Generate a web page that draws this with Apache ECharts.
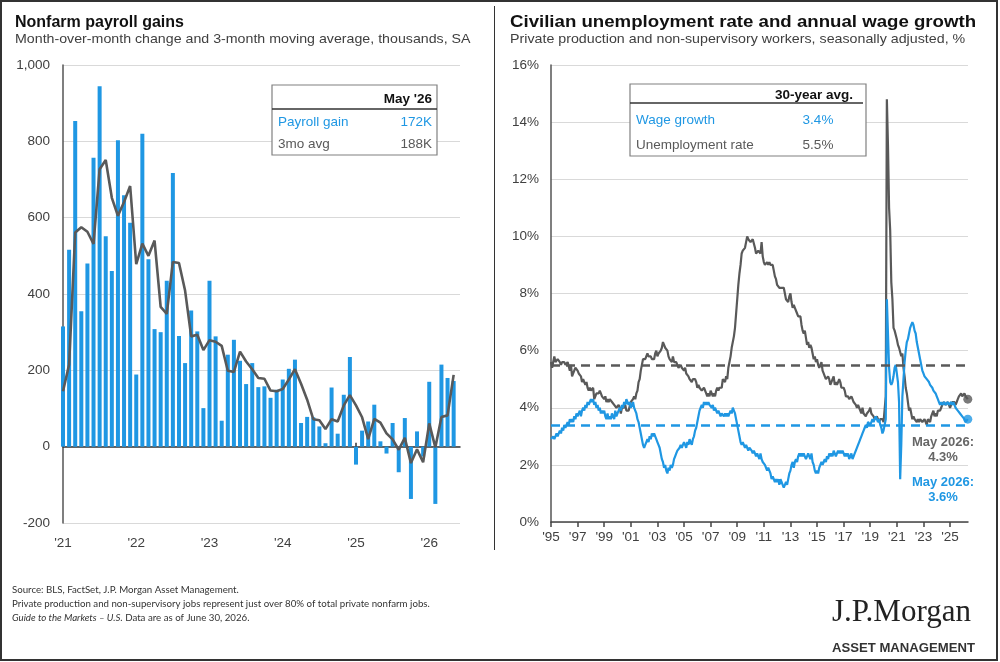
<!DOCTYPE html>
<html>
<head>
<meta charset="utf-8">
<title>Nonfarm payroll gains / Unemployment rate and wage growth</title>
<script src="https://cdn.jsdelivr.net/npm/echarts@6.0.0/dist/echarts.min.js"></script>
<style>
  html, body { margin: 0; padding: 0; background: #fff; }
  #main { width: 1000px; height: 662px; }
</style>
</head>
<body>
<div id="main"></div>
<script>
// ---------- left panel: nonfarm payrolls, Jan 2021 .. May 2026, thousands ----------
var payrollStartYear = 2021;
var payrollGains = [
  315, 516, 853, 355, 480, 757, 944, 551, 460, 803, 659, 587,   // 2021
  189, 820, 491, 308, 300, 435, 717, 290, 219, 357, 302, 101,   // 2022
  435, 289, 68, 241, 280, 225, 164, 219, 156, 158, 128, 149,    // 2023
  176, 204, 228, 62, 78, 77, 53, 9, 155, 34, 136, 235,          // 2024
  -47, 42, 66, 110, 14, -18, 62, -67, 75, -137, 40, -26,        // 2025
  170, -150, 215, 180, 172                                      // 2026
];
var payroll3moAvg = [
  145, 215, 561, 575, 563, 531, 727, 751, 652, 605, 641, 683,
  478, 532, 500, 540, 366, 348, 484, 481, 409, 289, 293, 253,
  279, 275, 264, 199, 196, 249, 223, 203, 180, 178, 147, 145,
  151, 176, 203, 165, 123, 72, 69, 46, 72, 66, 108, 135,
  108, 77, 20, 73, 63, 35, 19, -8, 23, -43, -7, -41,
  61, -2, 78, 82, 188
];
var payrollYears = [2021, 2022, 2023, 2024, 2025, 2026];
var payrollAxis = [-200, 1000, 200];   // min, max, step

// ---------- right panel: monthly, Jan 1995 .. May 2026, % ----------
var ratesStartYear = 1995;
var unemploymentRate = [
  5.6,5.4,5.4,5.8,5.6,5.6,5.7,5.7,5.6,5.5,5.6,5.6,
  5.6,5.5,5.5,5.6,5.6,5.3,5.5,5.1,5.2,5.2,5.4,5.4,
  5.3,5.2,5.2,5.1,4.9,5.0,4.9,4.8,4.9,4.7,4.6,4.7,
  4.6,4.6,4.7,4.3,4.4,4.5,4.5,4.5,4.6,4.5,4.4,4.4,
  4.3,4.4,4.2,4.3,4.2,4.3,4.3,4.2,4.2,4.1,4.1,4.0,
  4.0,4.1,4.0,3.8,4.0,4.0,4.0,4.1,3.9,3.9,3.9,3.9,
  4.2,4.2,4.3,4.4,4.3,4.5,4.6,4.9,5.0,5.3,5.5,5.7,
  5.7,5.7,5.7,5.9,5.8,5.8,5.8,5.7,5.7,5.7,5.9,6.0,
  5.8,5.9,5.9,6.0,6.1,6.3,6.2,6.1,6.1,6.0,5.8,5.7,
  5.7,5.6,5.8,5.6,5.6,5.6,5.5,5.4,5.4,5.5,5.4,5.4,
  5.3,5.4,5.2,5.2,5.1,5.0,5.0,4.9,5.0,5.0,5.0,4.9,
  4.7,4.8,4.7,4.7,4.6,4.6,4.7,4.7,4.5,4.4,4.5,4.4,
  4.6,4.5,4.4,4.5,4.4,4.6,4.7,4.6,4.7,4.7,4.7,5.0,
  5.0,4.9,5.1,5.0,5.4,5.6,5.8,6.1,6.1,6.5,6.8,7.3,
  7.8,8.3,8.7,9.0,9.4,9.5,9.5,9.6,9.8,10.0,9.9,9.9,
  9.8,9.8,9.9,9.9,9.6,9.4,9.4,9.5,9.5,9.4,9.8,9.3,
  9.1,9.0,9.0,9.1,9.0,9.1,9.0,9.0,9.0,8.8,8.6,8.5,
  8.3,8.3,8.2,8.2,8.2,8.2,8.2,8.0,7.8,7.8,7.7,7.9,
  8.0,7.7,7.5,7.6,7.5,7.5,7.3,7.2,7.2,7.2,6.9,6.7,
  6.6,6.7,6.7,6.2,6.3,6.1,6.2,6.1,5.9,5.7,5.8,5.6,
  5.7,5.5,5.4,5.4,5.6,5.3,5.2,5.1,5.0,5.0,5.1,5.0,
  4.8,4.9,5.0,5.1,4.8,4.9,4.8,4.9,5.0,4.9,4.7,4.7,
  4.7,4.6,4.4,4.4,4.4,4.3,4.3,4.4,4.3,4.2,4.2,4.1,
  4.0,4.1,4.0,4.0,3.8,4.0,3.8,3.8,3.7,3.8,3.8,3.9,
  4.0,3.8,3.8,3.7,3.6,3.6,3.7,3.6,3.5,3.6,3.6,3.6,
  3.5,3.5,4.4,14.8,13.2,11.0,10.2,8.4,7.8,6.8,6.7,6.7,
  6.4,6.2,6.1,6.1,5.8,5.9,5.4,5.1,4.7,4.5,4.2,3.9,
  4.0,3.8,3.6,3.7,3.6,3.6,3.5,3.6,3.5,3.6,3.6,3.5,
  3.5,3.6,3.5,3.4,3.6,3.6,3.5,3.7,3.8,3.9,3.7,3.8,
  3.7,3.9,3.9,3.9,4.0,4.1,4.2,4.2,4.1,4.1,4.2,4.1,
  4.0,4.1,4.2,4.2,4.2,4.1,4.2,4.3,4.4,4.4,4.5,4.4,
  4.4,4.5,4.4,4.4,4.3
];
var wageGrowth = [
  2.9,2.9,3.0,2.9,3.0,3.1,3.0,3.1,3.2,3.1,3.3,3.2,
  3.4,3.3,3.4,3.5,3.4,3.6,3.5,3.6,3.5,3.7,3.6,3.8,
  3.7,3.8,3.9,3.7,3.9,4.0,3.9,4.1,4.0,4.2,4.1,4.2,
  4.3,4.2,4.3,4.1,4.2,4.0,4.1,3.9,4.0,3.8,3.9,3.8,
  3.9,3.7,3.6,3.8,3.6,3.7,3.6,3.8,3.7,3.6,3.9,3.7,
  3.8,3.9,4.0,3.9,4.1,4.0,4.2,4.1,4.3,4.2,4.1,4.2,
  4.0,4.1,4.2,4.0,3.9,3.8,3.6,3.5,3.3,3.1,2.9,2.7,
  2.6,2.7,2.8,2.9,2.8,3.0,2.9,3.1,3.0,3.1,3.0,2.9,
  2.8,2.7,2.6,2.4,2.2,2.1,1.9,2.0,1.8,1.7,1.9,1.8,
  2.0,1.9,2.0,2.2,2.3,2.4,2.5,2.5,2.6,2.7,2.6,2.7,
  2.8,2.7,2.6,2.8,2.7,2.9,2.8,2.7,2.9,3.0,3.2,3.3,
  3.5,3.7,3.9,4.0,4.1,4.0,4.2,4.1,4.2,4.1,4.2,4.1,
  4.1,4.0,4.1,3.9,4.0,3.9,3.8,3.9,3.8,3.7,3.8,3.8,
  3.7,3.8,3.7,3.8,3.7,3.8,3.9,3.8,4.0,3.9,3.8,3.6,
  3.4,3.2,3.0,2.8,2.7,2.8,2.7,2.6,2.7,2.6,2.5,2.6,
  2.6,2.5,2.4,2.5,2.4,2.3,2.4,2.3,2.2,2.4,2.2,2.1,
  2.1,2.0,1.9,1.8,1.9,1.8,1.7,1.5,1.6,1.5,1.4,1.5,
  1.4,1.5,1.3,1.5,1.4,1.3,1.2,1.3,1.4,1.3,1.5,1.7,
  1.8,2.0,2.1,1.9,2.1,2.2,2.1,2.3,2.4,2.3,2.4,2.3,
  2.4,2.3,2.2,2.3,2.4,2.3,2.2,2.4,2.1,2.0,1.8,1.7,
  1.8,1.7,1.9,2.0,2.1,2.0,2.1,2.2,2.1,2.3,2.2,2.4,
  2.3,2.4,2.3,2.5,2.4,2.3,2.4,2.5,2.4,2.5,2.4,2.5,
  2.4,2.3,2.4,2.3,2.4,2.2,2.3,2.4,2.2,2.3,2.4,2.5,
  2.5,2.7,2.8,2.9,3.0,3.1,3.2,3.3,3.4,3.3,3.5,3.5,
  3.4,3.5,3.6,3.5,3.6,3.7,3.6,3.5,3.6,3.4,3.3,3.1,
  3.2,3.4,3.6,7.8,6.6,5.4,4.9,4.8,4.9,5.1,5.4,5.5,
  5.2,4.9,4.2,1.5,2.7,4.4,5.0,5.6,6.0,6.3,6.4,6.6,
  6.8,6.9,7.0,6.9,6.7,6.6,6.3,6.1,5.9,5.7,5.5,5.3,
  5.2,5.1,5.1,5.0,5.0,4.9,4.8,4.8,4.7,4.6,4.6,4.5,
  4.4,4.3,4.2,4.1,4.2,4.1,4.1,4.2,4.1,4.1,4.2,4.1,
  4.1,4.2,4.1,4.2,4.1,4.0,4.0,3.9,3.9,3.8,3.8,3.7,
  3.7,3.6,3.5,3.5,3.6
];
var wageAvg30y = 3.4;
var unemploymentAvg30y = 5.5;
var rateYears = [1995, 1997, 1999, 2001, 2003, 2005, 2007, 2009, 2011, 2013, 2015, 2017, 2019, 2021, 2023, 2025];
var rateAxis = [0, 16, 2];

// --------------------------------------------------------------------------
var BLUE = '#1f97e3';
var GREY = '#595959';
var FONT = '"Liberation Sans", Arial, sans-serif';
var NOTE_FONT = 'Lato, "Liberation Sans", sans-serif';

function monthly(startYear, arr) {
    return arr.map(function (v, i) { return [startYear + i / 12, v]; });
}
function yearLabel(v) {
    return "'" + String(Math.round(v)).slice(2);
}
function last(arr) { return arr[arr.length - 1]; }

var chartDom = document.getElementById('main');
var myChart = echarts.init(chartDom, null, {renderer: 'canvas'});

function txt(x, y, text, opt) {
    opt = opt || {};
    return {
        type: 'text', x: x, y: y, z: 110,
        scaleX: opt.scaleX || 1,
        style: {
            text: text,
            fill: opt.color || '#333',
            fontSize: opt.size || 13,
            fontWeight: opt.weight || 'normal',
            fontStyle: opt.style || 'normal',
            fontFamily: opt.family || FONT,
            align: opt.align || 'left',
            verticalAlign: 'middle',
            rich: opt.rich
        }
    };
}
function hline(x1, x2, y, color, w) {
    return {type: 'line', z: 105, shape: {x1: x1, y1: y, x2: x2, y2: y}, style: {stroke: color, lineWidth: w}};
}

var option = {
    backgroundColor: '#fff',
    animation: false,
    textStyle: {fontFamily: FONT},
    grid: [
        {left: 63, top: 65, width: 397, height: 458},
        {left: 551, top: 65, width: 417, height: 457}
    ],
    xAxis: [
        {   // labels of left panel
            gridIndex: 0, type: 'value', min: payrollStartYear, max: 2026.42,
            axisLine: {show: false, onZero: false},
            axisTick: {show: false},
            splitLine: {show: false},
            axisLabel: {customValues: payrollYears, formatter: yearLabel, margin: 13, color: '#404040', fontSize: 13.5}
        },
        {   // zero line with ticks
            gridIndex: 0, type: 'value', min: payrollStartYear, max: 2026.42,
            axisLine: {show: true, onZero: true, lineStyle: {color: '#333', width: 1.5}},
            axisTick: {show: true, customValues: payrollYears, length: 4, lineStyle: {color: '#333', width: 1.5}},
            axisLabel: {show: false},
            splitLine: {show: false}
        },
        {
            gridIndex: 1, type: 'value', min: ratesStartYear, max: 2026.35,
            axisLine: {show: true, onZero: false, lineStyle: {color: '#444', width: 1.5}},
            axisTick: {show: true, customValues: rateYears, length: 5, lineStyle: {color: '#444', width: 1.5}},
            axisLabel: {customValues: rateYears, formatter: yearLabel, margin: 8, color: '#404040', fontSize: 13.5},
            splitLine: {show: false}
        }
    ],
    yAxis: [
        {
            gridIndex: 0, type: 'value', min: payrollAxis[0], max: payrollAxis[1], interval: payrollAxis[2],
            axisLine: {show: true, onZero: false, lineStyle: {color: '#555', width: 1.5}},
            axisTick: {show: false},
            axisLabel: {
                margin: 13, color: '#404040', fontSize: 13.5,
                formatter: function (v) { return v.toLocaleString('en-US'); }
            },
            splitLine: {lineStyle: {color: '#d9d9d9', width: 1}}
        },
        {
            gridIndex: 1, type: 'value', min: rateAxis[0], max: rateAxis[1], interval: rateAxis[2],
            axisLine: {show: true, onZero: false, lineStyle: {color: '#555', width: 1.5}},
            axisTick: {show: false},
            axisLabel: {margin: 12, color: '#404040', fontSize: 13.5, formatter: '{value}%'},
            splitLine: {lineStyle: {color: '#d9d9d9', width: 1}}
        }
    ],
    series: [
        {
            name: 'Payroll gain', type: 'bar', xAxisIndex: 0, yAxisIndex: 0,
            barWidth: 4, itemStyle: {color: BLUE},
            data: monthly(payrollStartYear, payrollGains)
        },
        {
            name: '3mo avg', type: 'line', xAxisIndex: 0, yAxisIndex: 0,
            showSymbol: false, lineStyle: {color: GREY, width: 2.6}, z: 3,
            data: monthly(payrollStartYear, payroll3moAvg)
        },
        {
            name: 'Unemployment rate', type: 'line', xAxisIndex: 2, yAxisIndex: 1,
            showSymbol: false, lineStyle: {color: GREY, width: 2.2}, z: 3,
            data: monthly(ratesStartYear, unemploymentRate),
            markLine: {
                silent: true, symbol: 'none', label: {show: false},
                lineStyle: {color: GREY, type: [9, 6], width: 2.5},
                data: [{yAxis: unemploymentAvg30y}]
            }
        },
        {
            name: 'Wage growth', type: 'line', xAxisIndex: 2, yAxisIndex: 1,
            showSymbol: false, lineStyle: {color: BLUE, width: 2.2}, z: 4,
            data: monthly(ratesStartYear, wageGrowth),
            markLine: {
                silent: true, symbol: 'none', label: {show: false},
                lineStyle: {color: BLUE, type: [9, 6], width: 2.5},
                data: [{yAxis: wageAvg30y}]
            }
        },
        {
            type: 'scatter', xAxisIndex: 2, yAxisIndex: 1, symbolSize: 9, z: 5,
            itemStyle: {color: GREY},
            data: [[ratesStartYear + (unemploymentRate.length - 1) / 12, last(unemploymentRate)]]
        },
        {
            type: 'scatter', xAxisIndex: 2, yAxisIndex: 1, symbolSize: 9, z: 5,
            itemStyle: {color: BLUE},
            data: [[ratesStartYear + (wageGrowth.length - 1) / 12, last(wageGrowth)]]
        }
    ],
    graphic: [
        // frame and divider
        {type: 'rect', z: 100, shape: {x: 1, y: 1, width: 996, height: 659}, style: {fill: null, stroke: '#333', lineWidth: 2}},
        {type: 'line', z: 100, shape: {x1: 494.5, y1: 6, x2: 494.5, y2: 550}, style: {stroke: '#333', lineWidth: 1}},

        // titles
        txt(15, 23, 'Nonfarm payroll gains', {size: 16, weight: 'bold', color: '#111'}),
        txt(15, 39, 'Month-over-month change and 3-month moving average, thousands, SA', {size: 13.5, color: '#404040', scaleX: 1.052}),
        txt(510, 23, 'Civilian unemployment rate and annual wage growth', {size: 16, weight: 'bold', color: '#111', scaleX: 1.165}),
        txt(510, 39, 'Private production and non-supervisory workers, seasonally adjusted, %', {size: 13.5, color: '#404040', scaleX: 1.055}),

        // left table
        {type: 'rect', z: 104, shape: {x: 272, y: 85, width: 165, height: 70}, style: {fill: '#fff', stroke: '#808080', lineWidth: 1.2}},
        txt(432, 99, "May '26", {size: 13.5, weight: 'bold', color: '#111', align: 'right'}),
        hline(272, 437, 109, '#333', 1.5),
        txt(278, 122, 'Payroll gain', {size: 13.5, color: BLUE}),
        txt(432, 122, last(payrollGains) + 'K', {size: 13.5, color: BLUE, align: 'right'}),
        txt(278, 144, '3mo avg', {size: 13.5, color: GREY}),
        txt(432, 144, last(payroll3moAvg) + 'K', {size: 13.5, color: GREY, align: 'right'}),

        // right table
        {type: 'rect', z: 104, shape: {x: 630, y: 84, width: 236, height: 72}, style: {fill: '#fff', stroke: '#808080', lineWidth: 1.2}},
        txt(814, 95, '30-year avg.', {size: 13.5, weight: 'bold', color: '#111', align: 'center'}),
        hline(630, 863, 103, '#333', 1.5),
        txt(636, 120, 'Wage growth', {size: 13.5, color: BLUE}),
        txt(818, 120, wageAvg30y.toFixed(1) + '%', {size: 13.5, color: BLUE, align: 'center'}),
        txt(636, 145, 'Unemployment rate', {size: 13.5, color: GREY}),
        txt(818, 145, unemploymentAvg30y.toFixed(1) + '%', {size: 13.5, color: GREY, align: 'center'}),

        // end-point annotations
        txt(943, 442, 'May 2026:', {size: 13, weight: 'bold', color: '#666', align: 'center'}),
        txt(943, 457, last(unemploymentRate).toFixed(1) + '%', {size: 13, weight: 'bold', color: '#666', align: 'center'}),
        txt(943, 482, 'May 2026:', {size: 13, weight: 'bold', color: BLUE, align: 'center'}),
        txt(943, 497, last(wageGrowth).toFixed(1) + '%', {size: 13, weight: 'bold', color: BLUE, align: 'center'}),

        // footnotes
        txt(12, 590, 'Source: BLS, FactSet, J.P. Morgan Asset Management.', {size: 9.7, color: '#333', family: NOTE_FONT}),
        txt(12, 604, 'Private production and non-supervisory jobs represent just over 80% of total private nonfarm jobs.', {size: 9.7, color: '#333', family: NOTE_FONT}),
        txt(12, 618, '{i|Guide to the Markets \u2013 U.S.} Data are as of June 30, 2026.', {
            size: 9.7, color: '#333', family: NOTE_FONT,
            rich: {i: {fontStyle: 'italic', fontSize: 9.7, fill: '#333', fontFamily: NOTE_FONT}}
        }),

        // logo
        txt(832, 613, 'J.P.Morgan', {size: 31, color: '#222', family: '"Liberation Serif", "DejaVu Serif", serif'}),
        txt(832, 649, 'ASSET MANAGEMENT', {size: 12.5, weight: 'bold', color: '#333', scaleX: 1.05})
    ]
};

option && myChart.setOption(option);
</script>
</body>
</html>
